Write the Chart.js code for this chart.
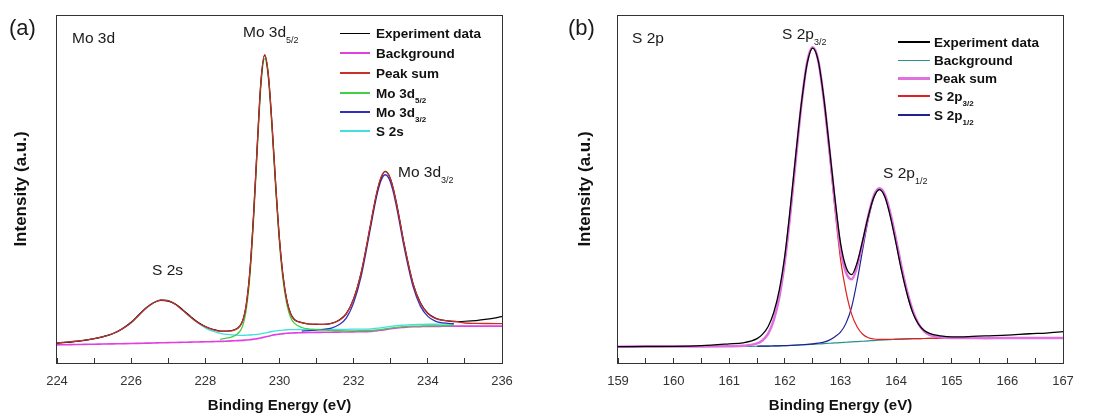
<!DOCTYPE html>
<html>
<head>
<meta charset="utf-8">
<script src="https://cdn.jsdelivr.net/npm/chart.js@4.4.0/dist/chart.umd.min.js"></script>
<style>
  body { margin: 0; background: #fff; }
  #wrap { position: relative; width: 1100px; height: 417px; overflow: hidden; }
  .panel { position: absolute; top: 0; width: 550px; height: 417px; }
  .lbl { position: absolute; font-family: "Liberation Sans", Arial, sans-serif; line-height: 1; white-space: nowrap; color: #1a1a1a; font-size: 15.5px; }
  .lbl sub { font-size: 9px; vertical-align: -6px; line-height: 0; }
  .tag { font-size: 22px; }
  .row { position: absolute; display: flex; align-items: center; height: 14px; font-family: "Liberation Sans", Arial, sans-serif; font-weight: bold; font-size: 13.5px; color: #111; white-space: nowrap; }
  .row sub { font-size: 8px; vertical-align: -5px; line-height: 0; }
  .ln { display: inline-block; width: 30px; height: 2px; background: #000; margin-right: 6px; }
  #pb .ln { width: 32px; margin-right: 4px; }
</style>
</head>
<body>
<div id="wrap">
  <div class="panel" id="pa" style="left:0">
    <canvas id="ca" width="550" height="417"></canvas>
    <div class="lbl tag" style="left:9px;top:17px">(a)</div>
    <div class="lbl" style="left:72px;top:30px">Mo 3d</div>
    <div class="lbl" style="left:243px;top:24px">Mo 3d<sub>5/2</sub></div>
    <div class="lbl" style="left:398px;top:164px">Mo 3d<sub>3/2</sub></div>
    <div class="lbl" style="left:152px;top:262px">S 2s</div>
    <div class="row" style="left:340px;top:26px"><span class="ln" style="height:1px;background:#000"></span>Experiment data</div>
    <div class="row" style="left:340px;top:46px"><span class="ln" style="background:#e040e0"></span>Background</div>
    <div class="row" style="left:340px;top:66px"><span class="ln" style="background:#c8302c"></span>Peak sum</div>
    <div class="row" style="left:340px;top:86px"><span class="ln" style="background:#40d040"></span><span>Mo 3d<sub>5/2</sub></span></div>
    <div class="row" style="left:340px;top:105px"><span class="ln" style="background:#3030c0"></span><span>Mo 3d<sub>3/2</sub></span></div>
    <div class="row" style="left:340px;top:124px"><span class="ln" style="background:#40e0e0"></span>S 2s</div>
  </div>
  <div class="panel" id="pb" style="left:550px">
    <canvas id="cb" width="550" height="417"></canvas>
    <div class="lbl tag" style="left:18px;top:17px">(b)</div>
    <div class="lbl" style="left:82px;top:30px">S 2p</div>
    <div class="lbl" style="left:232px;top:26px">S 2p<sub>3/2</sub></div>
    <div class="lbl" style="left:333px;top:165px">S 2p<sub>1/2</sub></div>
    <div class="row" style="left:348px;top:35px"><span class="ln" style="background:#000"></span>Experiment data</div>
    <div class="row" style="left:348px;top:53px"><span class="ln" style="height:1px;background:#2a9090"></span>Background</div>
    <div class="row" style="left:348px;top:71px"><span class="ln" style="height:3px;background:#e070e0"></span>Peak sum</div>
    <div class="row" style="left:348px;top:89px"><span class="ln" style="background:#e02020"></span><span>S 2p<sub>3/2</sub></span></div>
    <div class="row" style="left:348px;top:108px"><span class="ln" style="background:#202090"></span><span>S 2p<sub>1/2</sub></span></div>
  </div>
</div>

<script>
// ---------- (a) Mo 3d ----------
var energyA = [224, 224.25, 224.5, 224.75, 225, 225.25, 225.5, 225.75,
  226, 226.2, 226.4, 226.6, 226.8, 227, 227.2, 227.4, 227.6, 227.8, 228, 228.2, 228.4, 228.6, 228.8,
  229, 229.1, 229.2, 229.3, 229.4, 229.5, 229.6, 229.7, 229.8, 229.9, 230, 230.1, 230.2, 230.3, 230.4,
  230.6, 230.8, 231, 231.2, 231.4, 231.6, 231.8, 232, 232.2,
  232.45, 232.55, 232.65, 232.75, 232.85, 232.95, 233.05, 233.15, 233.25, 233.35,
  233.6, 233.8, 234, 234.2, 234.4, 234.7,
  235, 235.3, 235.6, 236];

var expA = [5.7, 5.9, 6.2, 6.5, 7.0, 7.6, 8.4, 9.8,
  11.7, 13.8, 15.8, 17.3, 18.0, 17.8, 16.9, 15.2, 13.4, 11.7, 10.5, 9.7, 9.2, 9.2, 9.6,
  12.0, 16.6, 26.3, 42.5, 62.6, 81.0, 88.4, 82.6, 68.3, 50.9, 35.6, 24.7, 17.9, 14.2, 12.5,
  11.6, 11.2, 11.1, 11.1, 11.4, 12.3, 14.2, 18.5, 25.9,
  39.4, 45.1, 50.0, 53.5, 55.1, 54.0, 50.9, 46.2, 40.6, 34.8,
  22.9, 17.3, 14.3, 12.9, 12.3, 11.9,
  12.0, 12.2, 12.6, 13.3];

var backgroundA = [5.2, 5.25, 5.3, 5.35, 5.4, 5.45, 5.5, 5.55,
  5.6, 5.65, 5.7, 5.75, 5.8, 5.85, 5.9, 5.95, 6.0, 6.05, 6.1, 6.15, 6.2, 6.3, 6.4,
  6.5, 6.6, 6.7, 6.85, 7.0, 7.2, 7.45, 7.7, 7.95, 8.15, 8.3, 8.45, 8.55, 8.6, 8.65,
  8.7, 8.75, 8.8, 8.82, 8.85, 8.88, 8.9, 8.95, 9.0,
  9.1, 9.2, 9.3, 9.45, 9.6, 9.75, 9.9, 10.05, 10.15, 10.25,
  10.4, 10.45, 10.5, 10.52, 10.55, 10.6,
  10.6, 10.6, 10.6, 10.6];

var peakSumA = [5.8, 6.0, 6.25, 6.55, 7.0, 7.55, 8.4, 9.75,
  11.6, 13.65, 15.7, 17.25, 18.1, 17.95, 16.8, 15.05, 13.2, 11.55, 10.45, 9.6, 9.1, 9.1, 9.5,
  11.95, 16.5, 26.05, 42.15, 62.25, 80.9, 88.6, 82.8, 68.05, 50.7, 35.35, 24.5, 17.75, 14.1, 12.4,
  11.6, 11.2, 11.15, 11.1, 11.4, 12.2, 14.05, 18.4, 25.8,
  39.55, 45.25, 50.2, 53.65, 55.0, 53.95, 50.8, 46.0, 40.5, 34.7,
  22.8, 17.15, 14.2, 12.8, 12.25, 12.0,
  11.5, 11.4, 11.35, 11.3];

var mo52A = [null, null, null, null, null, null, null, null,
  null, null, null, null, null, null, null, null, null, null, null, null, 6.8, 7.2, 7.9,
  10.5, 15.1, 24.7, 40.85, 61.0, 79.7, 87.45, 81.7, 66.95, 49.65, 34.3, 23.45, 16.75, 13.1, 11.45,
  10.2, 9.75, 9.6, 9.42, 9.35, 9.28, 9.25, 9.25, 9.27,
  9.34, 9.42, 9.51, 9.65, 9.8, 9.95, 10.09, 10.24, 10.33, 10.43,
  10.57, 10.61, 10.66, 10.67, 10.7, 10.75,
  null, null, null, null];

var mo32A = [null, null, null, null, null, null, null, null,
  null, null, null, null, null, null, null, null, null, null, null, null, null, null, null,
  null, null, null, null, null, null, null, null, null, null, null, null, null, null, null,
  9.16, 9.3, 9.47, 9.67, 10.05, 10.98, 12.9, 17.35, 24.8,
  38.6, 44.3, 49.3, 52.75, 54.1, 53.05, 49.9, 45.15, 39.65, 33.85,
  22.0, 16.35, 13.4, 12.02, 11.5, 11.28,
  null, null, null, null];

var s2sA = [5.8, 6.0, 6.25, 6.55, 7.0, 7.55, 8.4, 9.75,
  11.6, 13.65, 15.7, 17.25, 18.1, 17.95, 16.8, 15.05, 13.2, 11.55, 10.1, 9.15, 8.5, 8.2, 8.0,
  7.95, 8.0, 8.05, 8.15, 8.25, 8.4, 8.6, 8.82, 9.05, 9.22, 9.35, 9.47, 9.55, 9.58, 9.61,
  9.63, 9.65, 9.67, 9.67, 9.68, 9.69, 9.69, 9.72, 9.75,
  9.83, 9.92, 10.01, 10.15, 10.3, 10.44, 10.58, 10.72, 10.81, 10.91,
  11.05, 11.09, 11.13, 11.14, 11.16, 11.2,
  null, null, null, null];

// ---------- (b) S 2p ----------
var energyB = [159, 159.5, 160, 160.5, 161, 161.25,
  161.5, 161.6, 161.7, 161.8, 161.9, 162, 162.1, 162.2, 162.3, 162.4, 162.5, 162.6, 162.7, 162.8, 162.9,
  163, 163.1, 163.2, 163.3, 163.4, 163.5, 163.6, 163.7, 163.8, 163.9, 164, 164.1, 164.2, 164.3, 164.4, 164.5,
  164.6, 164.8, 165, 165.3, 165.6, 166, 166.4, 166.7, 167];

var expB = [4.7, 4.75, 4.8, 5.0, 5.5, 5.8,
  7.0, 8.3, 10.5, 14.5, 21.0, 31.0, 45.0, 60.5, 75.0, 86.0, 90.5, 86.8, 76.2, 62.0, 47.3,
  34.5, 27.5, 25.4, 28.9, 35.3, 42.2, 47.6, 49.8, 47.6, 41.8, 34.2, 26.3, 19.6, 14.4, 11.2, 9.4,
  8.5, 7.8, 7.5, 7.6, 7.8, 8.0, 8.4, 8.6, 9.0];

var backgroundB = [4.7, 4.72, 4.74, 4.76, 4.78, 4.8,
  4.82, 4.84, 4.86, 4.9, 4.94, 4.98, 5.03, 5.1, 5.18, 5.27, 5.37, 5.47, 5.57, 5.67, 5.77,
  5.87, 5.96, 6.05, 6.15, 6.25, 6.35, 6.45, 6.55, 6.64, 6.72, 6.8, 6.87, 6.93, 6.98, 7.01, 7.04,
  7.06, 7.08, 7.1, 7.12, 7.14, 7.16, 7.18, 7.2, 7.2];

var peakSumB = [4.7, 4.72, 4.74, 4.76, 4.83, 4.95,
  5.62, 6.54, 8.46, 12.3, 18.94, 29.3, 43.26, 59.15, 74.65, 86.37, 90.72, 86.92, 75.82, 61.37, 46.07,
  32.87, 25.96, 24.05, 27.85, 34.75, 42.25, 48.1, 50.2, 48.29, 42.82, 35.35, 27.37, 20.43, 14.98, 11.31, 9.14,
  8.06, 7.38, 7.2, 7.17, 7.14, 7.16, 7.18, 7.2, 7.2];

var s2p32B = [4.7, 4.72, 4.74, 4.76, 4.83, 4.95,
  5.62, 6.54, 8.46, 12.3, 18.94, 29.28, 43.23, 59.1, 74.58, 86.27, 90.57, 86.67, 75.37, 60.47, 44.27,
  29.87, 20.46, 14.05, 10.35, 8.25, 7.25, 6.9, 6.8, 6.79, 6.82, 6.85, 6.87, 6.93, 6.98, 7.01, 7.04,
  7.06, 7.08, 7.1, null, null, null, null, null, null];

var s2p12B = [null, null, null, null, null, null,
  4.82, 4.84, 4.86, 4.9, 4.94, 5.0, 5.06, 5.15, 5.25, 5.37, 5.52, 5.72, 6.02, 6.57, 7.57,
  8.87, 11.46, 16.05, 23.65, 32.75, 41.35, 47.65, 49.95, 48.14, 42.72, 35.3, 27.37, 20.43, 14.98, 11.31, 9.14,
  8.06, 7.38, 7.2, 7.17, 7.14, 7.16, 7.18, 7.2, 7.2];

var FONT = '"Liberation Sans", Arial, sans-serif';

function pts(xs, ys) {
  var out = [];
  for (var i = 0; i < xs.length; i++) {
    if (ys[i] !== null) out.push({x: xs[i], y: ys[i]});
  }
  return out;
}

function line(label, xs, ys, color, width, order) {
  return {
    label: label,
    data: pts(xs, ys),
    borderColor: color,
    borderWidth: width,
    pointRadius: 0,
    fill: false,
    cubicInterpolationMode: 'monotone',
    order: order
  };
}

// box round the plot area
var framePlugin = {
  id: 'frame',
  afterDraw: function(chart) {
    var a = chart.chartArea;
    var ctx = chart.ctx;
    ctx.save();
    ctx.strokeStyle = '#333';
    ctx.lineWidth = 1;
    ctx.strokeRect(Math.round(a.left) - 0.5, Math.round(a.top) + 0.5,
      Math.round(a.right - a.left) + 1, Math.round(a.bottom - a.top));
    ctx.restore();
  }
};

function makeChart(id, datasets, xmin, xmax, step, labelFn, pad, yWidth) {
  return new Chart(document.getElementById(id), {
    type: 'line',
    data: {datasets: datasets},
    plugins: [framePlugin],
    options: {
      responsive: false,
      animation: false,
      devicePixelRatio: 1,
      events: [],
      layout: {padding: pad},
      plugins: {legend: {display: false}, tooltip: {enabled: false}},
      scales: {
        x: {
          type: 'linear',
          min: xmin,
          max: xmax,
          afterFit: function(s) { s.height = 54; },
          border: {display: false},
          grid: {display: true, drawOnChartArea: false, drawTicks: true, tickLength: -5, color: '#333', lineWidth: 1},
          ticks: {
            stepSize: step,
            autoSkip: false,
            maxRotation: 0,
            padding: 16,
            color: '#333',
            font: {family: FONT, size: 13},
            callback: labelFn
          },
          title: {
            display: true,
            text: 'Binding Energy (eV)',
            color: '#111',
            font: {family: FONT, size: 15, weight: 'bold'},
            padding: {top: 0, bottom: 2}
          }
        },
        y: {
          type: 'linear',
          min: 0,
          max: 100,
          afterFit: function(s) { s.width = yWidth; },
          border: {display: false},
          grid: {display: false},
          ticks: {display: false},
          title: {
            display: true,
            text: 'Intensity (a.u.)',
            color: '#111',
            font: {family: FONT, size: 17, weight: 'bold'},
            padding: {top: 11, bottom: 0}
          }
        }
      }
    }
  });
}

makeChart('ca', [
  line('Peak sum', energyA, peakSumA, '#c8302c', 1.3, 0),
  line('Experiment data', energyA, expA, '#000000', 1.2, 1),
  line('Mo 3d5/2', energyA, mo52A, '#40d040', 1.3, 2),
  line('Mo 3d3/2', energyA, mo32A, '#3030c0', 1.3, 3),
  line('S 2s', energyA, s2sA, '#40e0e0', 1.3, 4),
  line('Background', energyA, backgroundA, '#e040e0', 1.6, 5)
], 224, 236, 1, function(v) { return v % 2 === 0 ? String(v) : ''; },
  {left: 0, right: 48, top: 15, bottom: 0}, 57);

makeChart('cb', [
  line('Experiment data', energyB, expB, '#000000', 1.3, 0),
  line('Peak sum', energyB, peakSumB, '#e070e0', 2.5, 1),
  line('S 2p3/2', energyB, s2p32B, '#e02020', 1.2, 2),
  line('S 2p1/2', energyB, s2p12B, '#202090', 1.2, 3),
  line('Background', energyB, backgroundB, '#2a9090', 1.2, 4)
], 159, 167, 0.5, function(v) { return Number.isInteger(v) ? String(v) : ''; },
  {left: 14, right: 37, top: 15, bottom: 0}, 54);
</script>
</body>
</html>
